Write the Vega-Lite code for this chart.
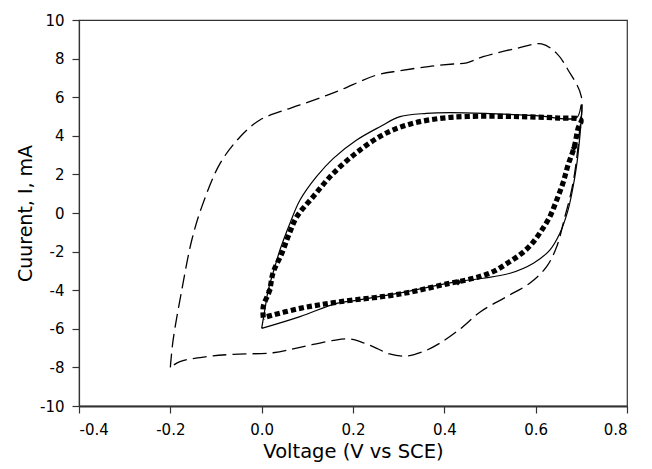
{
  "$schema": "https://vega.github.io/schema/vega-lite/v6.json",
  "width": 548,
  "height": 386,
  "autosize": "none",
  "padding": {"left": 79, "top": 20, "right": 25, "bottom": 63},
  "background": "white",
  "datasets": {
    "dashed": [
      {"i": 1, "v": -0.2, "c": -8.0},
      {"i": 2, "v": -0.194, "c": -6.6},
      {"i": 3, "v": -0.175, "c": -4.0},
      {"i": 4, "v": -0.153, "c": -1.4},
      {"i": 5, "v": -0.131, "c": 0.33},
      {"i": 6, "v": -0.091, "c": 2.57},
      {"i": 7, "v": -0.047, "c": 3.95},
      {"i": 8, "v": -0.004, "c": 4.82},
      {"i": 9, "v": 0.04, "c": 5.25},
      {"i": 10, "v": 0.084, "c": 5.6},
      {"i": 11, "v": 0.164, "c": 6.29},
      {"i": 12, "v": 0.252, "c": 7.15},
      {"i": 13, "v": 0.303, "c": 7.37},
      {"i": 14, "v": 0.369, "c": 7.6},
      {"i": 15, "v": 0.42, "c": 7.72},
      {"i": 16, "v": 0.449, "c": 7.78},
      {"i": 17, "v": 0.485, "c": 8.1},
      {"i": 18, "v": 0.558, "c": 8.53},
      {"i": 19, "v": 0.613, "c": 8.76},
      {"i": 20, "v": 0.646, "c": 8.27},
      {"i": 21, "v": 0.671, "c": 7.41},
      {"i": 22, "v": 0.7, "c": 6.03},
      {"i": 23, "v": 0.695, "c": 4.0},
      {"i": 24, "v": 0.685, "c": 2.0},
      {"i": 25, "v": 0.675, "c": 0.8},
      {"i": 26, "v": 0.664, "c": -0.19},
      {"i": 27, "v": 0.646, "c": -1.75},
      {"i": 28, "v": 0.624, "c": -2.78},
      {"i": 29, "v": 0.587, "c": -3.64},
      {"i": 30, "v": 0.536, "c": -4.34},
      {"i": 31, "v": 0.48, "c": -5.1},
      {"i": 32, "v": 0.435, "c": -6.0},
      {"i": 33, "v": 0.39, "c": -6.75},
      {"i": 34, "v": 0.354, "c": -7.18},
      {"i": 35, "v": 0.317, "c": -7.41},
      {"i": 36, "v": 0.28, "c": -7.3},
      {"i": 37, "v": 0.252, "c": -7.01},
      {"i": 38, "v": 0.22, "c": -6.7},
      {"i": 39, "v": 0.193, "c": -6.53},
      {"i": 40, "v": 0.157, "c": -6.6},
      {"i": 41, "v": 0.084, "c": -6.96},
      {"i": 42, "v": 0.025, "c": -7.24},
      {"i": 43, "v": -0.062, "c": -7.32},
      {"i": 44, "v": -0.12, "c": -7.44},
      {"i": 45, "v": -0.179, "c": -7.7},
      {"i": 46, "v": -0.2, "c": -8.0}
    ],
    "solid": [
      {"i": 1, "v": 0.0, "c": -5.98},
      {"i": 2, "v": 0.007, "c": -5.0},
      {"i": 3, "v": 0.0145, "c": -3.99},
      {"i": 4, "v": 0.029, "c": -2.78},
      {"i": 5, "v": 0.04, "c": -1.92},
      {"i": 6, "v": 0.062, "c": -0.53},
      {"i": 7, "v": 0.084, "c": 0.67},
      {"i": 8, "v": 0.12, "c": 1.88},
      {"i": 9, "v": 0.157, "c": 2.83},
      {"i": 10, "v": 0.208, "c": 3.78},
      {"i": 11, "v": 0.259, "c": 4.47},
      {"i": 12, "v": 0.303, "c": 4.99},
      {"i": 13, "v": 0.361, "c": 5.16},
      {"i": 14, "v": 0.412, "c": 5.2},
      {"i": 15, "v": 0.5, "c": 5.15},
      {"i": 16, "v": 0.6, "c": 5.05},
      {"i": 17, "v": 0.69, "c": 4.95},
      {"i": 18, "v": 0.7, "c": 5.6},
      {"i": 19, "v": 0.693, "c": 3.09},
      {"i": 20, "v": 0.682, "c": 1.36},
      {"i": 21, "v": 0.671, "c": 0.16},
      {"i": 22, "v": 0.653, "c": -1.05},
      {"i": 23, "v": 0.631, "c": -1.92},
      {"i": 24, "v": 0.595, "c": -2.6},
      {"i": 25, "v": 0.544, "c": -3.12},
      {"i": 26, "v": 0.485, "c": -3.38},
      {"i": 27, "v": 0.427, "c": -3.56},
      {"i": 28, "v": 0.3, "c": -4.15},
      {"i": 29, "v": 0.2, "c": -4.55},
      {"i": 30, "v": 0.164, "c": -4.68},
      {"i": 31, "v": 0.084, "c": -5.37},
      {"i": 32, "v": 0.0, "c": -5.98}
    ],
    "squares": [
      {"i": 1, "v": 0.0035, "c": -5.42},
      {"i": 2, "v": 0.0035, "c": -4.85},
      {"i": 3, "v": 0.017, "c": -4.03},
      {"i": 4, "v": 0.025, "c": -3.09},
      {"i": 5, "v": 0.044, "c": -2.1},
      {"i": 6, "v": 0.06, "c": -1.1},
      {"i": 7, "v": 0.077, "c": -0.19},
      {"i": 8, "v": 0.113, "c": 0.85},
      {"i": 9, "v": 0.157, "c": 2.06},
      {"i": 10, "v": 0.215, "c": 3.26},
      {"i": 11, "v": 0.274, "c": 4.16},
      {"i": 12, "v": 0.332, "c": 4.65},
      {"i": 13, "v": 0.39, "c": 4.9},
      {"i": 14, "v": 0.45, "c": 5.0},
      {"i": 15, "v": 0.55, "c": 5.0},
      {"i": 16, "v": 0.65, "c": 4.92},
      {"i": 17, "v": 0.699, "c": 4.82},
      {"i": 18, "v": 0.693, "c": 4.39},
      {"i": 19, "v": 0.684, "c": 3.38},
      {"i": 20, "v": 0.671, "c": 2.49},
      {"i": 21, "v": 0.66, "c": 1.57},
      {"i": 22, "v": 0.646, "c": 0.67},
      {"i": 23, "v": 0.631, "c": -0.19},
      {"i": 24, "v": 0.611, "c": -0.97},
      {"i": 25, "v": 0.591, "c": -1.61},
      {"i": 26, "v": 0.567, "c": -2.14},
      {"i": 27, "v": 0.54, "c": -2.57},
      {"i": 28, "v": 0.511, "c": -2.99},
      {"i": 29, "v": 0.482, "c": -3.26},
      {"i": 30, "v": 0.449, "c": -3.47},
      {"i": 31, "v": 0.412, "c": -3.64},
      {"i": 32, "v": 0.303, "c": -4.2},
      {"i": 33, "v": 0.171, "c": -4.6},
      {"i": 34, "v": 0.084, "c": -4.94},
      {"i": 35, "v": 0.0035, "c": -5.42}
    ],
    "diamonds": [
      {"v": 0.017, "c": -4.03},
      {"v": 0.684, "c": 3.38},
      {"v": 0.43, "c": -3.59}
    ]
  },
  "encoding": {
    "x": {
      "field": "v", "type": "quantitative",
      "scale": {"domain": [-0.4, 0.8], "nice": false, "zero": false},
      "axis": {
        "title": "Voltage (V vs SCE)",
        "values": [-0.4, -0.2, 0, 0.2, 0.4, 0.6, 0.8],
        "labelExpr": "replace(format(datum.value, '.1f'), '−', '-')",
        "labelPadding": 9,
        "domainWidth": 1.8,
        "titleX": 274,
        "titleY": 51,
        "titleBaseline": "alphabetic",
        "titleFontSize": 19.5
      }
    },
    "y": {
      "field": "c", "type": "quantitative",
      "scale": {"domain": [-10, 10], "nice": false, "zero": false},
      "axis": {
        "title": "Cuurent, I, mA",
        "values": [-10, -8, -6, -4, -2, 0, 2, 4, 6, 8, 10],
        "labelExpr": "replace(format(datum.value, 'd'), '−', '-')",
        "labelPadding": 8,
        "domainWidth": 1.2,
        "titleX": -48,
        "titleY": 193,
        "titleAngle": -90,
        "titleBaseline": "alphabetic",
        "titleAlign": "center",
        "titleFontSize": 19
      }
    }
  },
  "layer": [
    {
      "data": {"name": "dashed"},
      "mark": {"type": "line", "color": "black", "strokeWidth": 1.3, "strokeDash": [14, 6], "interpolate": "catmull-rom"},
      "encoding": {"order": {"field": "i", "type": "quantitative"}}
    },
    {
      "data": {"name": "solid"},
      "mark": {"type": "line", "color": "black", "strokeWidth": 1.2, "interpolate": "catmull-rom"},
      "encoding": {"order": {"field": "i", "type": "quantitative"}}
    },
    {
      "data": {"name": "squares"},
      "mark": {"type": "line", "color": "black", "strokeWidth": 5.2, "strokeDash": [5.2, 3], "strokeCap": "butt", "interpolate": "catmull-rom"},
      "encoding": {"order": {"field": "i", "type": "quantitative"}}
    },
    {
      "data": {"name": "diamonds"},
      "mark": {"type": "point", "shape": "diamond", "filled": true, "color": "black", "size": 40, "opacity": 1}
    }
  ],
  "config": {
    "font": "DejaVu Sans",
    "view": {"stroke": "#333333", "strokeWidth": 1.2},
    "axis": {
      "grid": false,
      "domainColor": "#333333",
      "tickColor": "#333333",
      "tickSize": 7,
      "tickWidth": 1.2,
      "labelFontSize": 15,
      "labelColor": "black",
      "titleFontWeight": "normal",
      "titleColor": "black",
      "labelFont": "DejaVu Sans",
      "titleFont": "DejaVu Sans"
    }
  }
}
